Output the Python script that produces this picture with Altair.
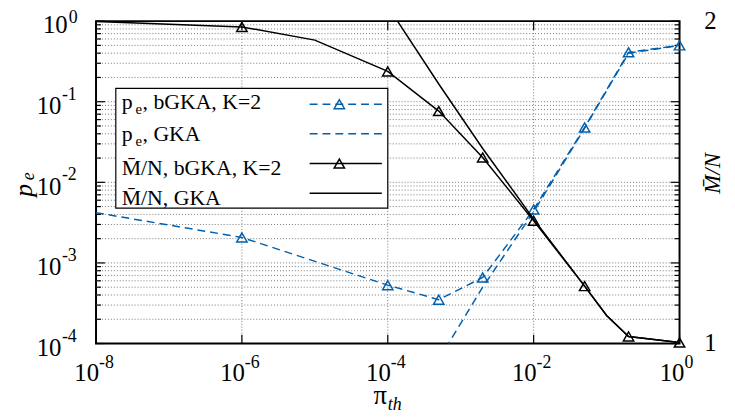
import altair as alt
import pandas as pd

# ---------------- data ----------------
pe_bgka_x = [1e-8, 1e-6, 1e-4, 5e-4, 2e-3, 1e-2, 5e-2, 2e-1, 1.0]
pe_bgka_y = [4.2e-3, 2.07e-3, 5.3e-4, 3.5e-4, 6.6e-4, 4.6e-3, 4.8e-2, 0.41, 0.50]
pe_bgka_mark = [False, True, True, True, True, True, True, True, True]

pe_gka_x = [5e-4, 2e-3, 1e-2, 5e-2, 2e-1, 1.0]
pe_gka_y = [6.3e-5, 5.0e-4, 4.3e-3, 4.7e-2, 0.40, 0.50]

mn_bgka_x = [1e-8, 1e-6, 1e-5, 1e-4, 5e-4, 2e-3, 1e-2, 5e-2, 1e-1, 2e-1, 1.0]
mn_bgka_y = [1.999, 1.982, 1.941, 1.844, 1.721, 1.577, 1.381, 1.178, 1.087, 1.022, 1.003]
mn_bgka_mark = [False, True, False, True, True, True, True, True, False, True, True]

mn_gka_x = [1e-4, 5e-4, 2e-3, 1e-2, 5e-2, 1e-1, 2e-1, 1.0]
mn_gka_y = [2.046, 1.805, 1.605, 1.386, 1.178, 1.087, 1.022, 1.003]

x_tick_vals = [1e-8, 1e-6, 1e-4, 1e-2, 1.0]
x_tick_exp = ["-8", "-6", "-4", "-2", "0"]
x_grid_vals = [1e-6, 1e-4, 1e-2]

y_tick_vals = [1.0, 1e-1, 1e-2, 1e-3, 1e-4]
y_tick_exp = ["0", "-1", "-2", "-3", "-4"]
y_minor_mult = [2, 3, 4, 5, 6, 7, 8, 9]
y_decades = [1e-4, 1e-3, 1e-2, 1e-1]

r_tick_vals = [1, 2]
r_tick_text = ["1", "2"]

legend_labels = ["p", "p", "M\u0304/N, bGKA, K=2", "M\u0304/N, GKA"]
legend_tails = [", bGKA, K=2", ", GKA", "", ""]

# ---------------- styling ----------------
W, H = 590, 326
BLUE = "#0060ad"
FONT = "Liberation Serif"
DASH = [8, 5]

xs = alt.Scale(type="log", domain=[1e-8, 1.0])
ysL = alt.Scale(type="log", domain=[1e-4, 1.0])
ysR = alt.Scale(domain=[1, 2], zero=False)

X = alt.X("x:Q", scale=xs, axis=None)
YL = alt.Y("y:Q", scale=ysL, axis=None)
YR = alt.Y("y:Q", scale=ysR, axis=None)

df_pe_b = pd.DataFrame({"x": pe_bgka_x, "y": pe_bgka_y, "m": pe_bgka_mark})
df_pe_g = pd.DataFrame({"x": pe_gka_x, "y": pe_gka_y})
df_mn_b = pd.DataFrame({"x": mn_bgka_x, "y": mn_bgka_y, "m": mn_bgka_mark})
df_mn_g = pd.DataFrame({"x": mn_gka_x, "y": mn_gka_y})

y_minor = [m * d for d in y_decades for m in y_minor_mult]
y_grid = y_minor + [1e-3, 1e-2, 1e-1]
df_ygrid = pd.DataFrame({"y": y_grid})
df_ymajor = pd.DataFrame({"y": y_tick_vals})
df_yminor = pd.DataFrame({"y": y_minor})
df_xgrid = pd.DataFrame({"x": x_grid_vals})
df_xticks = pd.DataFrame({"x": x_tick_vals, "e": x_tick_exp})
df_yticks = pd.DataFrame({"y": y_tick_vals, "e": y_tick_exp})
df_rticks = pd.DataFrame({"y": r_tick_vals, "t": r_tick_text})

grid_style = dict(color="#777777", strokeDash=[1, 2], strokeWidth=1)

# grid
ygrid = alt.Chart(df_ygrid).mark_rule(**grid_style).encode(
    y=YL, x=alt.value(0), x2=alt.value(W))
xgrid = alt.Chart(df_xgrid).mark_rule(**grid_style).encode(
    x=X, y=alt.value(0), y2=alt.value(H))

# ticks
tk = dict(color="black", strokeWidth=1.2)
ytick_major_l = alt.Chart(df_ymajor).mark_rule(**tk).encode(y=YL, x=alt.value(0), x2=alt.value(9))
ytick_major_r = alt.Chart(df_ymajor).mark_rule(**tk).encode(y=YL, x=alt.value(W - 9), x2=alt.value(W))
ytick_minor_l = alt.Chart(df_yminor).mark_rule(**tk).encode(y=YL, x=alt.value(0), x2=alt.value(5))
ytick_minor_r = alt.Chart(df_yminor).mark_rule(**tk).encode(y=YL, x=alt.value(W - 5), x2=alt.value(W))
xtick_b = alt.Chart(df_xticks).mark_rule(**tk).encode(x=X, y=alt.value(H - 9), y2=alt.value(H))
xtick_t = alt.Chart(df_xticks).mark_rule(**tk).encode(x=X, y=alt.value(0), y2=alt.value(9))

# tick labels x
txt_big = dict(font=FONT, fontSize=25, baseline="alphabetic", color="black")
txt_sup = dict(font=FONT, fontSize=18, baseline="alphabetic", color="black")
neg = alt.datum.e != "0"
zer = alt.datum.e == "0"
xl_10n = alt.Chart(df_xticks).transform_filter(neg).mark_text(align="right", dx=3, **txt_big).encode(
    x=X, y=alt.value(364), text=alt.value("10"))
xl_en = alt.Chart(df_xticks).transform_filter(neg).mark_text(align="left", dx=3, **txt_sup).encode(
    x=X, y=alt.value(351), text="e:N")
xl_10z = alt.Chart(df_xticks).transform_filter(zer).mark_text(align="right", dx=5, **txt_big).encode(
    x=X, y=alt.value(364), text=alt.value("10"))
xl_ez = alt.Chart(df_xticks).transform_filter(zer).mark_text(align="left", dx=5, **txt_sup).encode(
    x=X, y=alt.value(351), text="e:N")

# tick labels y (left)
yl_10n = alt.Chart(df_yticks).transform_filter(neg).mark_text(align="right", dy=12.5, **txt_big).encode(
    y=YL, x=alt.value(-35), text=alt.value("10"))
yl_en = alt.Chart(df_yticks).transform_filter(neg).mark_text(align="left", dy=-2, **txt_sup).encode(
    y=YL, x=alt.value(-34.5), text="e:N")
yl_10z = alt.Chart(df_yticks).transform_filter(zer).mark_text(align="right", dy=12.5, **txt_big).encode(
    y=YL, x=alt.value(-28.7), text=alt.value("10"))
yl_ez = alt.Chart(df_yticks).transform_filter(zer).mark_text(align="left", dy=2, **txt_sup).encode(
    y=YL, x=alt.value(-27.5), text="e:N")

# right labels
rl = alt.Chart(df_rticks).mark_text(align="left", dy=8, **txt_big).encode(
    y=YR, x=alt.value(615), text="t:N")

# data lines
pe_b_line = alt.Chart(df_pe_b).mark_line(color=BLUE, strokeDash=DASH, strokeWidth=1.5, clip=True).encode(x=X, y=YL)
pe_b_pts = alt.Chart(df_pe_b).transform_filter(alt.datum.m).mark_point(
    shape="triangle-up", filled=False, size=110, color=BLUE, strokeWidth=1.5, opacity=1).encode(x=X, y=YL)
pe_g_line = alt.Chart(df_pe_g).mark_line(color=BLUE, strokeDash=DASH, strokeWidth=1.5, clip=True).encode(x=X, y=YL)

mn_b_line = alt.Chart(df_mn_b).mark_line(color="black", strokeWidth=1.5, clip=True).encode(x=X, y=YR)
mn_b_pts = alt.Chart(df_mn_b).transform_filter(alt.datum.m).mark_point(
    shape="triangle-up", filled=False, size=110, color="black", strokeWidth=1.5, opacity=1).encode(x=X, y=YR)
mn_g_line = alt.Chart(df_mn_g).mark_line(color="black", strokeWidth=1.5, clip=True).encode(x=X, y=YR)

left = alt.layer(ygrid, xgrid, ytick_major_l, ytick_major_r, ytick_minor_l, ytick_minor_r,
                 xtick_b, xtick_t, xl_10n, xl_en, xl_10z, xl_ez,
                 yl_10n, yl_en, yl_10z, yl_ez, pe_g_line, pe_b_line, pe_b_pts)
right = alt.layer(rl, mn_g_line, mn_b_line, mn_b_pts)

# titles
one = pd.DataFrame({"k": [0]})
t_p = alt.Chart(one).mark_text(font=FONT, fontSize=26, fontStyle="italic", angle=270,
                               align="center", baseline="middle").encode(
    x=alt.value(-73), y=alt.value(171), text=alt.value("p"))
t_e = alt.Chart(one).mark_text(font=FONT, fontSize=18, fontStyle="italic", angle=270,
                               align="center", baseline="middle").encode(
    x=alt.value(-68), y=alt.value(157), text=alt.value("e"))
t_mn = alt.Chart(one).mark_text(font=FONT, fontSize=23, fontStyle="italic", angle=270,
                                align="center", baseline="middle").encode(
    x=alt.value(624), y=alt.value(154), text=alt.value("M\u0304/N"))
t_pi = alt.Chart(one).mark_text(font=FONT, fontSize=27, align="center", baseline="alphabetic").encode(
    x=alt.value(287.5), y=alt.value(387), text=alt.value("\u03c0"))
t_th = alt.Chart(one).mark_text(font=FONT, fontSize=18, fontStyle="italic", align="left",
                                baseline="alphabetic").encode(
    x=alt.value(295), y=alt.value(393), text=alt.value("th"))

# legend
leg_box = alt.Chart(one).mark_rect(fill="white", stroke="black", strokeWidth=1.2).encode(
    x=alt.value(20), x2=alt.value(295), y=alt.value(68), y2=alt.value(189))
lt = dict(font=FONT, fontSize=22, baseline="alphabetic", align="left", color="black")
ls = dict(font=FONT, fontSize=15, baseline="alphabetic", align="left", color="black")
leg_items = []
row_base = [89, 121, 156, 186]
row_line = [84, 114, 144, 174]
for i in range(4):
    leg_items.append(alt.Chart(one).mark_text(**lt).encode(
        x=alt.value(26), y=alt.value(row_base[i]), text=alt.value(legend_labels[i])))
    if legend_tails[i]:
        leg_items.append(alt.Chart(one).mark_text(**ls).encode(
            x=alt.value(40), y=alt.value(row_base[i] + 5), text=alt.value("e")))
        leg_items.append(alt.Chart(one).mark_text(**lt).encode(
            x=alt.value(47), y=alt.value(row_base[i]), text=alt.value(legend_tails[i])))
    col = BLUE if i < 2 else "black"
    kw = dict(color=col, strokeWidth=1.5)
    if i < 2:
        kw["strokeDash"] = DASH
    leg_items.append(alt.Chart(one).mark_rule(**kw).encode(
        x=alt.value(216), x2=alt.value(289), y=alt.value(row_line[i])))
    if i in (0, 2):
        leg_items.append(alt.Chart(one).mark_point(shape="triangle-up", filled=False, size=110,
                                                   color=col, strokeWidth=1.5, opacity=1).encode(
            x=alt.value(246), y=alt.value(row_line[i])))

deco = alt.layer(t_p, t_e, t_mn, t_pi, t_th, leg_box, *leg_items)

chart = alt.layer(left, right, deco).resolve_scale(y="independent").properties(
    width=W, height=H,
    autosize=alt.AutoSizeParams(type="none"),
    padding={"left": 89, "top": 11, "right": 48, "bottom": 70},
).configure_view(stroke="black", strokeWidth=2)

chart.save("out.html", embed_options={"renderer": "svg", "actions": False})
